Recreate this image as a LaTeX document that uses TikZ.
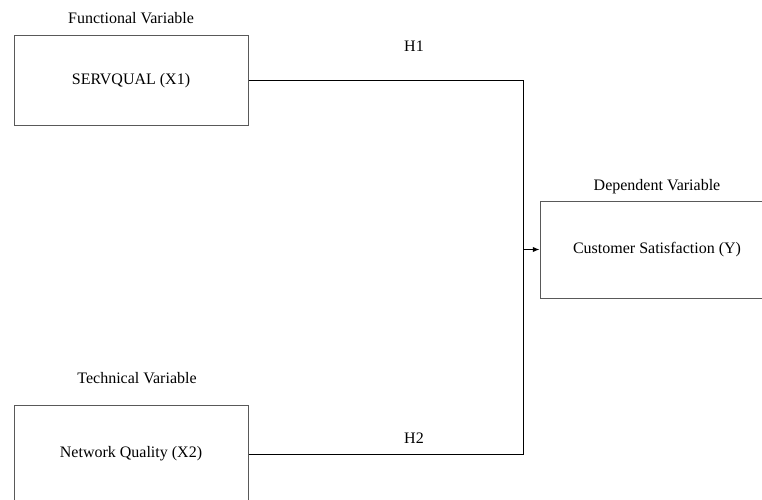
\documentclass[tikz,border=0pt]{standalone}
\usepackage{fontspec}
\setmainfont{Liberation Serif}
\usepackage{tikz}
\usetikzlibrary{arrows.meta, positioning}
\newcommand{\variable}[5]{%
  \node[caja, minimum height=#5] (#1) at (#2,#3) {#4};%
}

\begin{document}
\begin{tikzpicture}[x=0.75pt, y=-0.75pt,
    caja/.style={draw=black!65, line width=0.75pt, minimum width=175.5pt,
      inner sep=0pt, font=\fontsize{12}{14}\selectfont},
    titulo/.style={font=\fontsize{12}{14}\selectfont, inner sep=0pt},
    enlace/.style={line width=0.75pt}]
        \clip (0,0) rectangle (762,499);
        \useasboundingbox (0,0) rectangle (762,499);
        \variable{x1}{131}{80.5}{SERVQUAL (X1)}{66.75pt}
        \variable{x2}{131}{454}{Network Quality (X2)}{73pt}
        \variable{y}{657}{249.5}{Customer Satisfaction (Y)}{72.75pt}
        \node[titulo] (tx1) at (131,18) {Functional Variable};
        \node[titulo] (tx2) at (137,378) {Technical Variable};
        \node[titulo] (ty) at (657,187) {Dependent Variable};
        \coordinate (junta) at (523.5,249.5);
        \draw[enlace] (x1.east) -| (junta);
        \draw[enlace] (x2.east) -| (junta);
        \draw[enlace, -{Latex[length=5pt, width=4pt]}] (junta) -- (y.west);
        \node[titulo] (h1) at (414,46) {H1};
        \node[titulo] (h2) at (414,438) {H2};
      \end{tikzpicture}
\end{document}
